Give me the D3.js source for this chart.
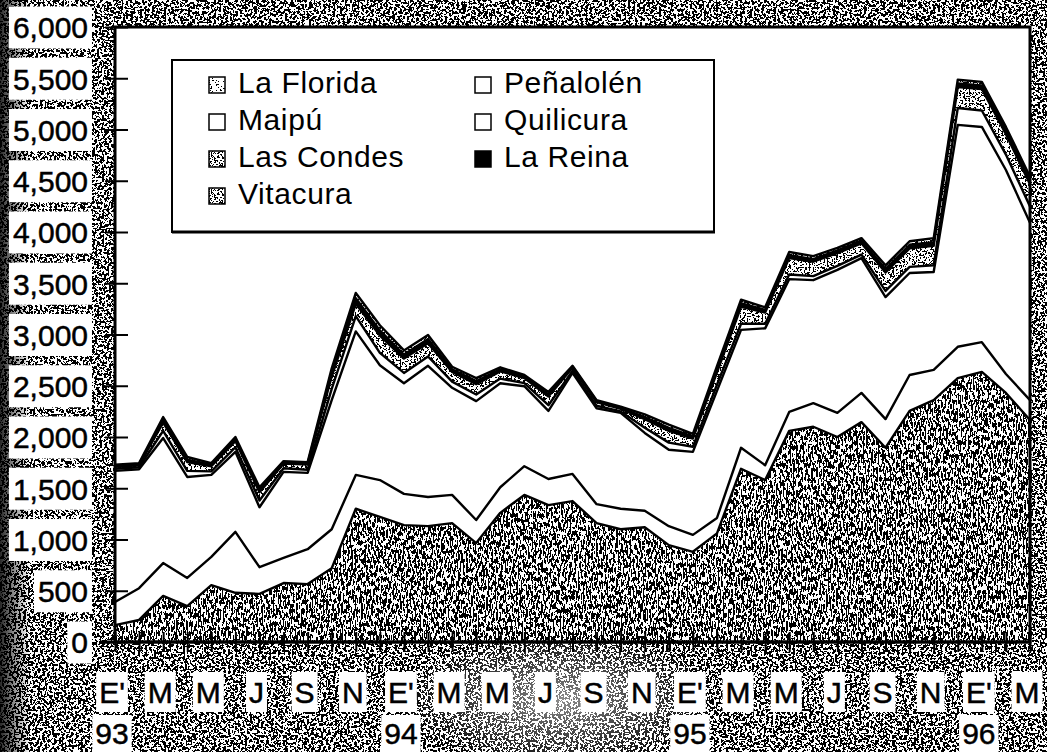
<!DOCTYPE html>
<html>
<head>
<meta charset="utf-8">
<script src="https://cdn.jsdelivr.net/npm/d3@7"></script>
<style>
  html, body { margin: 0; padding: 0; background: #fff; }
  svg { display: block; }
</style>
</head>
<body>
<div id="chart"></div>
<script>
/*global d3*/

var months = [
  "1993-01", "1993-02", "1993-03", "1993-04", "1993-05", "1993-06", "1993-07", "1993-08", "1993-09", "1993-10", "1993-11", "1993-12",
  "1994-01", "1994-02", "1994-03", "1994-04", "1994-05", "1994-06", "1994-07", "1994-08", "1994-09", "1994-10", "1994-11", "1994-12",
  "1995-01", "1995-02", "1995-03", "1995-04", "1995-05", "1995-06", "1995-07", "1995-08", "1995-09", "1995-10", "1995-11", "1995-12",
  "1996-01", "1996-02", "1996-03"
];

// stacked bottom to top
var seriesNames = ["La Florida", "Peñalolén", "Maipú", "Quilicura", "Las Condes", "La Reina", "Vitacura"];

var laFlorida = [165, 215, 450, 350, 555, 480, 470, 575, 565, 720, 1300, 1220, 1140, 1130, 1160, 965, 1260, 1435, 1335, 1375, 1160, 1100, 1120, 945, 880, 1060, 1690, 1580, 2060, 2100, 2000, 2145, 1895, 2255, 2360, 2575, 2635, 2430, 2165];
var penalolen = [225, 310, 320, 275, 275, 595, 260, 245, 340, 380, 330, 360, 305, 285, 275, 225, 250, 280, 255, 265, 185, 200, 160, 185, 165, 150, 205, 145, 185, 230, 235, 285, 280, 350, 295, 305, 290, 185, 195];
var maipu = [1280, 1160, 1220, 985, 800, 780, 585, 840, 745, 1260, 1400, 1120, 1080, 1280, 1045, 1160, 1015, 780, 665, 985, 935, 935, 760, 745, 810, 1240, 1150, 1335, 1295, 1200, 1395, 1315, 1190, 995, 955, 2165, 2100, 1990, 1730];
var quilicura = [20, 20, 70, 60, 35, 45, 65, 35, 30, 110, 150, 120, 100, 90, 60, 65, 45, 30, 55, 20, 25, 15, 50, 70, 50, 60, 60, 45, 45, 40, 40, 35, 60, 60, 65, 165, 160, 150, 160];
var lasCondes = [20, 20, 80, 85, 50, 60, 80, 45, 50, 120, 120, 170, 140, 130, 95, 100, 70, 50, 85, 30, 35, 25, 85, 115, 80, 120, 165, 110, 160, 140, 125, 110, 180, 180, 190, 205, 210, 200, 215];
var laReina = [10, 10, 25, 25, 15, 20, 25, 10, 10, 40, 55, 50, 40, 40, 25, 30, 20, 15, 20, 10, 10, 10, 20, 30, 20, 30, 35, 25, 30, 25, 25, 25, 35, 35, 35, 35, 35, 35, 35];
var vitacura = [10, 10, 30, 25, 15, 20, 25, 15, 15, 40, 50, 50, 40, 40, 25, 30, 20, 15, 25, 10, 10, 10, 25, 30, 25, 30, 35, 25, 30, 30, 25, 25, 35, 35, 40, 35, 35, 35, 40];

var yTicks = [0, 500, 1000, 1500, 2000, 2500, 3000, 3500, 4000, 4500, 5000, 5500, 6000];
var xLetters = ["E'", "M", "M", "J", "S", "N", "E'", "M", "M", "J", "S", "N", "E'", "M", "M", "J", "S", "N", "E'", "M"];
var yearMonths = ["1993-01", "1994-01", "1995-01", "1996-01"];
var yearLabels = ["93", "94", "95", "96"];

var seriesData = [laFlorida, penalolen, maipu, quilicura, lasCondes, laReina, vitacura];
var fillKind = {"La Florida": "dense", "Peñalolén": "white", "Maipú": "white", "Quilicura": "white",
  "Las Condes": "light", "La Reina": "black", "Vitacura": "light"};
var legendKind = {"La Florida": "sparse", "Peñalolén": "white", "Maipú": "white", "Quilicura": "white",
  "Las Condes": "light", "La Reina": "black", "Vitacura": "light"};

var table = months.map(function (m, i) {
  var row = {month: m};
  seriesNames.forEach(function (s, k) { row[s] = seriesData[k][i]; });
  return row;
});

var W = 1047, H = 752,
  plotL = 115, plotR = 1030, plotT = 27, plotB = 642,
  font = "'Liberation Sans', Arial, sans-serif";

var svg = d3.select("#chart").append("svg")
  .attr("width", W)
  .attr("height", H);

var defs = svg.append("defs");

function grainFilter(id, freq, onFrom, seed) {
  var table20 = d3.range(20).map(function (k) { return k >= onFrom ? 1 : 0; }).join(" ");
  var f = defs.append("filter").attr("id", id)
    .attr("x", "0").attr("y", "0").attr("width", "1").attr("height", "1")
    .attr("color-interpolation-filters", "sRGB");
  f.append("feTurbulence").attr("type", "fractalNoise").attr("baseFrequency", freq)
    .attr("numOctaves", 2).attr("seed", seed).attr("result", "t");
  f.append("feColorMatrix").attr("in", "t").attr("type", "matrix")
    .attr("values", "0 0 0 0 0  0 0 0 0 0  0 0 0 0 0  0 0 0 -1 1").attr("result", "a");
  f.append("feComponentTransfer").attr("in", "a").attr("result", "th")
    .append("feFuncA").attr("type", "discrete").attr("tableValues", table20);
  f.append("feComposite").attr("in", "th").attr("in2", "SourceAlpha").attr("operator", "in");
}
grainFilter("grain", "0.42", 10, 4);
grainFilter("dense", "0.6 0.22", 10, 9);
grainFilter("light", "0.55", 11, 2);
grainFilter("sparse", "0.55", 13, 5);

var edge = defs.append("linearGradient").attr("id", "edge");
edge.append("stop").attr("offset", "0").attr("stop-color", "#000").attr("stop-opacity", 0.85);
edge.append("stop").attr("offset", "1").attr("stop-color", "#000").attr("stop-opacity", 0);
var glow = defs.append("radialGradient").attr("id", "glow");
glow.append("stop").attr("offset", "0").attr("stop-color", "#fff").attr("stop-opacity", 0.55);
glow.append("stop").attr("offset", "1").attr("stop-color", "#fff").attr("stop-opacity", 0);

// scanned page background
svg.append("rect").attr("width", W).attr("height", H).attr("fill", "#fff");
svg.append("rect").attr("width", W).attr("height", H).attr("fill", "#000").attr("filter", "url(#grain)");
svg.append("rect").attr("width", 30).attr("height", H).attr("fill", "url(#edge)");
svg.append("ellipse").attr("cx", 560).attr("cy", 700).attr("rx", 160).attr("ry", 70).attr("fill", "url(#glow)");

var x = d3.scalePoint().domain(months).range([plotL, plotR]);
var y = d3.scaleLinear().domain([0, 6000]).range([plotB, plotT]);

svg.append("rect").attr("x", plotL).attr("y", plotT)
  .attr("width", plotR - plotL).attr("height", plotB - plotT).attr("fill", "#fff");

var stacked = d3.stack().keys(seriesNames)(table);

var area = d3.area()
  .x(function (d) { return x(d.data.month); })
  .y0(function (d) { return y(d[0]); })
  .y1(function (d) { return y(d[1]); });

var line = d3.line()
  .x(function (d) { return x(d.data.month); })
  .y(function (d) { return y(d[1]); });

function paint(sel, kind) {
  if (kind === "black") {
    sel.attr("fill", "#000");
  } else if (kind === "white") {
    sel.attr("fill", "#fff");
  } else {
    sel.attr("fill", "#000").attr("filter", "url(#" + kind + ")");
  }
}

var layers = svg.append("g");
stacked.forEach(function (layer) {
  layers.append("path").datum(layer).attr("d", area).attr("fill", "#fff");
  paint(layers.append("path").datum(layer).attr("d", area), fillKind[layer.key]);
});
stacked.forEach(function (layer) {
  layers.append("path").datum(layer).attr("d", line)
    .attr("fill", "none").attr("stroke", "#000").attr("stroke-width", 2.4)
    .attr("stroke-linejoin", "round");
});

// frame
svg.append("rect").attr("x", plotL).attr("y", plotT)
  .attr("width", plotR - plotL).attr("height", plotB - plotT)
  .attr("fill", "none").attr("stroke", "#000").attr("stroke-width", 3);

// y axis
var yAxisG = svg.append("g").attr("transform", "translate(" + plotL + ",0)")
  .call(d3.axisLeft(y).tickValues(yTicks).tickSize(10).tickPadding(17).tickFormat(d3.format(",")));
yAxisG.select(".domain").remove();
yAxisG.selectAll(".tick line").attr("x1", 13).attr("stroke-width", 2);
yAxisG.selectAll(".tick text")
  .attr("font-family", font).attr("font-size", 30)
  .attr("stroke", "#000").attr("stroke-width", 0.5)
  .attr("dy", "0.36em");
yAxisG.selectAll(".tick").each(function () {
  var t = d3.select(this), b = t.select("text").node().getBBox();
  t.insert("rect", "text").attr("x", b.x - 4).attr("y", -21)
    .attr("width", b.width + 8).attr("height", 42).attr("fill", "#fff");
});

// x axis ticks
var xAxisG = svg.append("g").attr("transform", "translate(0," + plotB + ")")
  .call(d3.axisBottom(x).tickSize(10).tickFormat(""));
xAxisG.select(".domain").remove();
xAxisG.selectAll(".tick line").attr("y1", -10).attr("stroke-width", 2);
svg.append("line").attr("x1", 100).attr("x2", plotR).attr("y1", plotB).attr("y2", plotB)
  .attr("stroke", "#000").attr("stroke-width", 3);

function boxedText(g, tx, ty, str, boxTop, boxH) {
  var t = g.append("text").attr("x", tx).attr("y", ty)
    .attr("text-anchor", "middle")
    .attr("font-family", font).attr("font-size", 30)
    .attr("stroke", "#000").attr("stroke-width", 0.5)
    .text(str);
  var b = t.node().getBBox();
  g.insert("rect", "text").attr("x", b.x - 3).attr("y", boxTop)
    .attr("width", b.width + 6).attr("height", boxH).attr("fill", "#fff");
}

var xLab = svg.append("g");
months.filter(function (m, i) { return i % 2 === 0; }).forEach(function (m, k) {
  var g = xLab.append("g");
  boxedText(g, x(m) - 3, 703, xLetters[k], 672, 40);
});
yearMonths.forEach(function (m, k) {
  var g = xLab.append("g");
  boxedText(g, x(m) - 3, 744, yearLabels[k], 715, 37);
});

// legend
var legend = svg.append("g");
legend.append("rect").attr("x", 172).attr("y", 60).attr("width", 542).attr("height", 172)
  .attr("fill", "#fff").attr("stroke", "#000").attr("stroke-width", 2);
legend.append("line").attr("x1", 172).attr("x2", 715).attr("y1", 232).attr("y2", 232)
  .attr("stroke", "#000").attr("stroke-width", 3);

var items = legend.selectAll("g.item").data(seriesNames).enter().append("g")
  .attr("class", "item")
  .attr("transform", function (d, i) {
    return "translate(" + (i % 2 === 0 ? 209 : 475) + "," + (77 + Math.floor(i / 2) * 37) + ")";
  });
items.append("rect").attr("width", 16).attr("height", 16).attr("fill", "#fff");
items.each(function (d) {
  paint(d3.select(this).append("rect").attr("width", 16).attr("height", 16), legendKind[d]);
});
items.append("rect").attr("width", 16).attr("height", 16)
  .attr("fill", "none").attr("stroke", "#000").attr("stroke-width", 1.5);
items.append("text").attr("x", 29).attr("y", 16)
  .attr("font-family", font).attr("font-size", 30).attr("letter-spacing", 0.6)
  .text(function (d) { return d; });
</script>
</body>
</html>
